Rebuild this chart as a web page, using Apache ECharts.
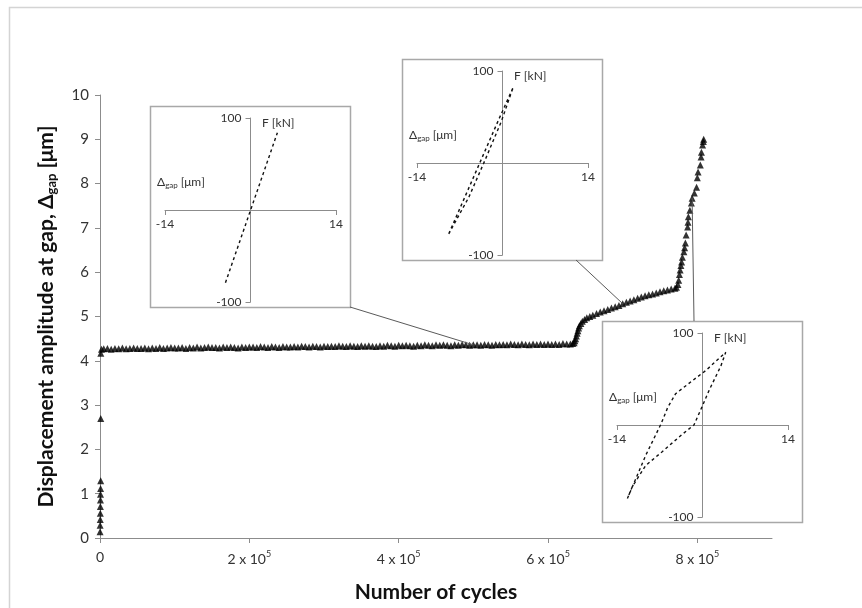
<!DOCTYPE html>
<html>
<head>
<meta charset="utf-8">
<script src="https://cdn.jsdelivr.net/npm/echarts@6/dist/echarts.min.js"></script>
<style>
  html, body { margin: 0; padding: 0; background: #ffffff; }
  #chart { width: 862px; height: 608px; }
</style>
</head>
<body>
<div id="chart"></div>
<script>
// Fatigue test: displacement amplitude at the gap versus number of load cycles
const cycles = [
  100, 200, 300, 400, 500, 600, 700, 800, 900, 1000, 1100, 2000,
  5000, 10000, 15000, 20000, 25000, 30000, 35000, 40000, 45000, 50000,
  55000, 60000, 65000, 70000, 75000, 80000, 85000, 90000, 95000, 100000,
  105000, 110000, 115000, 120000, 125000, 130000, 135000, 140000, 145000, 150000,
  155000, 160000, 165000, 170000, 175000, 180000, 185000, 190000, 195000, 200000,
  205000, 210000, 215000, 220000, 225000, 230000, 235000, 240000, 245000, 250000,
  255000, 260000, 265000, 270000, 275000, 280000, 285000, 290000, 295000, 300000,
  305000, 310000, 315000, 320000, 325000, 330000, 335000, 340000, 345000, 350000,
  355000, 360000, 365000, 370000, 375000, 380000, 385000, 390000, 395000, 400000,
  405000, 410000, 415000, 420000, 425000, 430000, 435000, 440000, 445000, 450000,
  455000, 460000, 465000, 470000, 475000, 480000, 485000, 490000, 495000, 500000,
  505000, 510000, 515000, 520000, 525000, 530000, 535000, 540000, 545000, 550000,
  555000, 560000, 565000, 570000, 575000, 580000, 585000, 590000, 595000, 600000,
  605000, 610000, 615000, 620000, 625000, 630000,
  633000, 635000, 636000, 637000, 638000, 639000, 640000, 641000, 642000, 644000,
  646000, 649000, 652000, 656000, 660000, 665000, 670000, 675000, 680000, 685000,
  690000, 695000, 700000, 705000, 710000, 715000, 720000, 725000, 730000, 735000,
  740000, 745000, 750000, 755000, 760000, 765000, 770000, 772000, 774000,
  775000, 776000, 777000, 778000, 779000, 780000, 782000, 783000, 784000, 785000,
  787000, 787500, 788000, 790000, 792000, 793000, 796000, 799000, 800000, 801000,
  804000, 805000, 805500, 807000, 808000, 808500
];
const amplitude = [
  0.14, 0.29, 0.42, 0.56, 0.71, 0.86, 0.99, 1.12, 1.29, 2.70, 4.17, 4.26,
  4.27, 4.28, 4.26, 4.28, 4.27, 4.29, 4.27, 4.28, 4.29, 4.28,
  4.28, 4.29, 4.27, 4.29, 4.28, 4.30, 4.28, 4.29, 4.30, 4.29,
  4.29, 4.30, 4.28, 4.30, 4.29, 4.31, 4.29, 4.30, 4.31, 4.30,
  4.30, 4.29, 4.31, 4.30, 4.31, 4.30, 4.29, 4.31, 4.30, 4.31,
  4.31, 4.30, 4.32, 4.31, 4.30, 4.32, 4.31, 4.30, 4.32, 4.31,
  4.31, 4.32, 4.31, 4.33, 4.32, 4.31, 4.33, 4.32, 4.31, 4.33,
  4.32, 4.33, 4.32, 4.34, 4.33, 4.32, 4.34, 4.33, 4.32, 4.34,
  4.33, 4.34, 4.33, 4.32, 4.34, 4.33, 4.35, 4.34, 4.33, 4.35,
  4.34, 4.35, 4.34, 4.33, 4.35, 4.34, 4.36, 4.35, 4.34, 4.36,
  4.35, 4.36, 4.35, 4.34, 4.36, 4.35, 4.37, 4.36, 4.35, 4.36,
  4.36, 4.35, 4.37, 4.36, 4.35, 4.37, 4.36, 4.37, 4.36, 4.38,
  4.37, 4.36, 4.38, 4.37, 4.36, 4.38, 4.37, 4.38, 4.37, 4.38,
  4.37, 4.38, 4.37, 4.39, 4.38, 4.38,
  4.39, 4.41, 4.45, 4.50, 4.56, 4.62, 4.68, 4.74, 4.79, 4.84,
  4.89, 4.93, 4.97, 5.00, 5.03, 5.07, 5.10, 5.13, 5.16, 5.19,
  5.22, 5.25, 5.29, 5.32, 5.35, 5.38, 5.41, 5.44, 5.47, 5.49,
  5.51, 5.53, 5.56, 5.58, 5.60, 5.62, 5.64, 5.66, 5.72,
  5.82, 5.95, 6.05, 6.15, 6.23, 6.34, 6.46, 6.55, 6.66, 6.84,
  7.02, 7.13, 7.25, 7.40, 7.56, 7.67, 7.79, 7.92, 8.13, 8.26,
  8.42, 8.60, 8.71, 8.87, 8.95, 9.00
];
const xTickValues = [0, 200000, 400000, 600000, 800000];

// Force-displacement loops recorded at three stages of the test
const loopEarly = [[-4.1, -79], [4.4, 84]];
const loopMid = [[-8.8, -77], [-6.1, -36], [-3.4, 5], [-0.7, 46], [1.76, 82.5],
                 [-0.2, 45], [-2.8, 4], [-5.5, -37], [-8.8, -77]];
const loopLate = [[-12.3, -80], [-9.3, -33], [-6.8, 1], [-5.7, 19], [-4.4, 34],
                  [-1.1, 51], [0.5, 59], [3.8, 79], [3.0, 64], [1.1, 38], [0, 21],
                  [-1.4, 0], [-3.3, -10], [-6.6, -29], [-9.3, -44], [-11.5, -67], [-12.3, -80]];
const loops = [loopEarly, loopMid, loopLate];

// Cycle counts each loop is linked to on the main curve
const loopCycles = [500000, 700000, 793000];

const FONT = 'Lato';
const GRAY = '#8c8c8c';

// inset frames and the point on each frame where its leader line starts
const insetBoxes = [
  { left: 150, top: 106, w: 200, h: 201 },
  { left: 402, top: 59, w: 200, h: 201 },
  { left: 602, top: 321, w: 200, h: 201 }
];
const leaderStarts = [
  b => [b.left + b.w, b.top + b.h],
  b => [b.left + 174, b.top + b.h],
  b => [b.left + 92, b.top]
];
const INSET_W = 171, INSET_H = 184;

const chart = echarts.init(document.getElementById('chart'), null, { renderer: 'canvas' });

const grids = [{ left: 100, top: 95, right: 90, bottom: 70 }];
const xAxes = [{
  type: 'value', gridIndex: 0, min: 0, max: 900000,
  axisLine: { lineStyle: { color: GRAY, width: 1 } },
  axisTick: { show: true, length: 5, customValues: xTickValues, lineStyle: { color: GRAY } },
  splitLine: { show: false },
  axisLabel: {
    customValues: xTickValues, margin: 12, color: '#333', fontFamily: FONT, fontSize: 14,
    formatter: v => v === 0 ? '{m|0}' : '{m|' + (v / 100000) + ' x 10}{e|5}',
    rich: {
      m: { fontFamily: FONT, fontSize: 14, color: '#333' },
      e: { fontFamily: FONT, fontSize: 9, color: '#333', verticalAlign: 'bottom', padding: [0, 0, 9, 0] }
    }
  },
  name: 'Number of cycles', nameLocation: 'middle', nameGap: 44,
  nameTextStyle: { fontFamily: FONT, fontSize: 21, fontWeight: 'bold', color: '#111' }
}];
const yAxes = [{
  type: 'value', gridIndex: 0, min: 0, max: 10, interval: 1,
  axisLine: { show: true, lineStyle: { color: GRAY, width: 1 } },
  axisTick: { show: true, length: 5, lineStyle: { color: GRAY } },
  splitLine: { show: false },
  axisLabel: { margin: 11, color: '#333', fontFamily: FONT, fontSize: 15 },
  name: 'Displacement amplitude at gap, Δ{sub|gap} [μm]', nameLocation: 'middle', nameGap: 42,
  nameTextStyle: {
    fontFamily: FONT, fontSize: 21, fontWeight: 'bold', color: '#111',
    rich: { sub: { fontFamily: FONT, fontSize: 13, fontWeight: 'bold', color: '#111', verticalAlign: 'top', padding: [10, 0, 0, 0] } }
  }
}];
const series = [{
  type: 'scatter', xAxisIndex: 0, yAxisIndex: 0,
  data: cycles.map((c, i) => [c, amplitude[i]]),
  symbol: 'triangle', symbolSize: 7,
  itemStyle: { color: '#000' },
  silent: true, animation: false, z: 3
}];

const graphics = [{
  type: 'polyline', silent: true,
  shape: { points: [[9.5, 608], [9.5, 7.5], [862, 7.5]] },
  style: { stroke: '#d4d4d4', lineWidth: 1.5, fill: null }
}];

insetBoxes.forEach((b, k) => {
  const gi = k + 1;
  grids.push({ left: b.left + 15, top: b.top + 12, width: INSET_W, height: INSET_H });
  // both inset axes cross at the origin, in the middle of the inset
  xAxes.push({
    type: 'value', gridIndex: gi, min: -14, max: 14, interval: 28,
    position: 'bottom', offset: -INSET_H / 2,
    axisLine: { onZero: false, lineStyle: { color: GRAY, width: 1 } },
    axisTick: { show: true, length: 5, lineStyle: { color: GRAY } },
    splitLine: { show: false },
    axisLabel: { margin: 8, color: '#333', fontFamily: FONT, fontSize: 12 }
  });
  yAxes.push({
    type: 'value', gridIndex: gi, min: -100, max: 100, interval: 200,
    position: 'left', offset: -INSET_W / 2,
    axisLine: { show: true, onZero: false, lineStyle: { color: GRAY, width: 1 } },
    axisTick: { show: true, length: 5, lineStyle: { color: GRAY } },
    splitLine: { show: false },
    axisLabel: { margin: 9, color: '#333', fontFamily: FONT, fontSize: 12 }
  });
  series.push({
    type: 'line', xAxisIndex: gi, yAxisIndex: gi,
    data: loops[k], symbol: 'none', smooth: false,
    lineStyle: { color: '#111', width: 1.4, type: [3, 3] },
    silent: true, animation: false, z: 4
  });
  graphics.push({
    type: 'rect', silent: true,
    shape: { x: b.left + 0.5, y: b.top + 0.5, width: b.w, height: b.h },
    style: { stroke: '#a8a8a8', lineWidth: 1.5, fill: null }
  });
  graphics.push({
    type: 'text', silent: true,
    style: { x: b.left + 112, y: b.top + 17, text: 'F [kN]', font: '12px ' + FONT, fill: '#333', verticalAlign: 'middle' }
  });
  graphics.push({
    type: 'text', silent: true,
    style: {
      x: b.left + 7, y: b.top + 76, text: 'Δ{s|gap} [μm]', font: '12px ' + FONT, fill: '#333', verticalAlign: 'middle',
      rich: { s: { fontSize: 8, fontFamily: FONT, fill: '#333', verticalAlign: 'top', padding: [6, 0, 0, 0] } }
    }
  });
});

chart.setOption({
  animation: false,
  backgroundColor: '#ffffff',
  textStyle: { fontFamily: FONT },
  grid: grids, xAxis: xAxes, yAxis: yAxes, series: series,
  graphic: graphics
});

// leader lines from each inset frame to the curve point it describes
const leaders = loopCycles.map((c, k) => {
  const idx = cycles.indexOf(c);
  const p = chart.convertToPixel({ gridIndex: 0 }, [cycles[idx], amplitude[idx]]);
  const s = leaderStarts[k](insetBoxes[k]);
  return {
    type: 'line', silent: true, z: 10,
    shape: { x1: s[0], y1: s[1], x2: p[0], y2: p[1] },
    style: { stroke: '#5a5a5a', lineWidth: 1 }
  };
});
chart.setOption({ graphic: graphics.concat(leaders) });
</script>
</body>
</html>
